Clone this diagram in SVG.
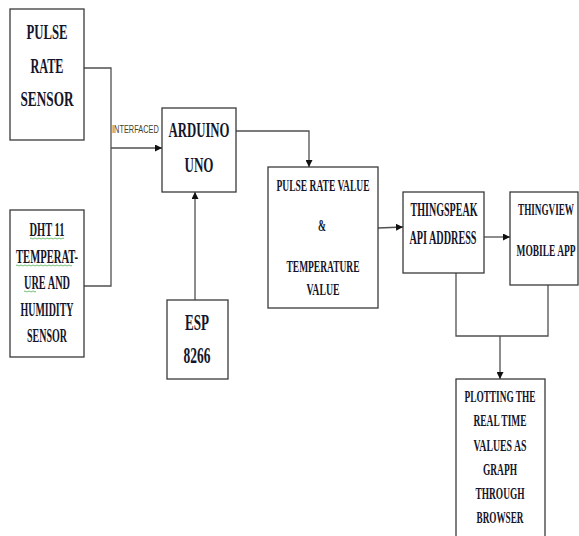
<svg xmlns="http://www.w3.org/2000/svg" width="579" height="536" viewBox="0 0 579 536">
<style>
.box{fill:#fff;stroke:#3a3a3a;stroke-width:1.3}
.ln{fill:none;stroke:#505050;stroke-width:1.3}
.t{font-family:"Liberation Serif","Times New Roman",serif;font-weight:bold;fill:#15152a;text-anchor:middle}
.wv{fill:none;stroke:#4caf50;stroke-width:0.8}
</style>
<defs>
<marker id="ah" viewBox="0 0 10 10" refX="10" refY="5" markerWidth="7" markerHeight="7" markerUnits="userSpaceOnUse" orient="auto">
<path d="M0,0 L10,5 L0,10 z" fill="#111"/>
</marker>
</defs>
<rect width="579" height="536" fill="#fff"/>
<g id="connectors">
<polyline class="ln" points="84,68 111,68 111,286 84,286"/>
<line class="ln" x1="111" y1="148" x2="162" y2="148" marker-end="url(#ah)"/>
<line class="ln" x1="195" y1="300" x2="195" y2="192" marker-end="url(#ah)"/>
<polyline class="ln" points="236,131 309,131 309,167" marker-end="url(#ah)"/>
<line class="ln" x1="378" y1="228" x2="403" y2="227" marker-end="url(#ah)"/>
<line class="ln" x1="484" y1="237" x2="510" y2="237" marker-end="url(#ah)"/>
<polyline class="ln" points="456,273 456,336 548,336 548,285"/>
<line class="ln" x1="500" y1="336" x2="500" y2="379" marker-end="url(#ah)"/>
<text transform="translate(112,133) scale(0.67,1)" font-family="Liberation Sans,Arial,sans-serif" font-size="11" fill="#4a3f1e" textLength="70" lengthAdjust="spacingAndGlyphs">INTERFACED</text>
</g>
<g id="pulse-sensor">
<rect class="box" x="10" y="9" width="74" height="131"/>
<text class="t" transform="translate(47,39) scale(0.6,1)" font-size="21" textLength="68.3" lengthAdjust="spacingAndGlyphs">PULSE</text>
<text class="t" transform="translate(47,73) scale(0.6,1)" font-size="21" textLength="55" lengthAdjust="spacingAndGlyphs">RATE</text>
<text class="t" transform="translate(47,106) scale(0.6,1)" font-size="21" textLength="88.3" lengthAdjust="spacingAndGlyphs">SENSOR</text>
</g>
<g id="dht11">
<rect class="box" x="10" y="210" width="74" height="147"/>
<text class="t" transform="translate(47,236) scale(0.6,1)" font-size="19" textLength="58.3" lengthAdjust="spacingAndGlyphs">DHT 11</text>
<text class="t" transform="translate(47,263) scale(0.6,1)" font-size="19" textLength="103.3" lengthAdjust="spacingAndGlyphs">TEMPERAT-</text>
<text class="t" transform="translate(47,289) scale(0.6,1)" font-size="19" textLength="76.7" lengthAdjust="spacingAndGlyphs">URE AND</text>
<text class="t" transform="translate(47,316) scale(0.6,1)" font-size="19" textLength="88.3" lengthAdjust="spacingAndGlyphs">HUMIDITY</text>
<text class="t" transform="translate(47,342) scale(0.6,1)" font-size="19" textLength="66.7" lengthAdjust="spacingAndGlyphs">SENSOR</text>
<path class="wv" d="M30,238.5 q1,-1 2,0 t2,0 t2,0 t2,0 t2,0 t2,0 t2,0 t2,0 t2,0 t2,0 t2,0 t2,0 t2,0 t2,0 t2,0 t2,0 t2,0"/>
<path class="wv" d="M16,265.5 q1,-1 2,0 t2,0 t2,0 t2,0 t2,0 t2,0 t2,0 t2,0 t2,0 t2,0 t2,0 t2,0 t2,0 t2,0 t2,0 t2,0 t2,0 t2,0 t2,0 t2,0 t2,0 t2,0 t2,0 t2,0 t2,0 t2,0 t2,0 t2,0"/>
<path class="wv" d="M24,291.5 q1,-1 2,0 t2,0 t2,0 t2,0 t2,0 t2,0"/>
</g>
<g id="arduino">
<rect class="box" x="162" y="108" width="74" height="84"/>
<text class="t" transform="translate(199,137) scale(0.6,1)" font-size="22" textLength="101.7" lengthAdjust="spacingAndGlyphs">ARDUINO</text>
<text class="t" transform="translate(199,172) scale(0.6,1)" font-size="22" textLength="48.3" lengthAdjust="spacingAndGlyphs">UNO</text>
</g>
<g id="esp8266">
<rect class="box" x="167" y="300" width="61" height="79"/>
<text class="t" transform="translate(197,330) scale(0.6,1)" font-size="23" textLength="40" lengthAdjust="spacingAndGlyphs">ESP</text>
<text class="t" transform="translate(197,363) scale(0.6,1)" font-size="23" textLength="45" lengthAdjust="spacingAndGlyphs">8266</text>
</g>
<g id="values">
<rect class="box" x="268" y="167" width="110" height="141"/>
<text class="t" transform="translate(323,191) scale(0.6,1)" font-size="16" textLength="155" lengthAdjust="spacingAndGlyphs">PULSE RATE VALUE</text>
<text class="t" transform="translate(322,231) scale(0.6,1)" font-size="16">&amp;</text>
<text class="t" transform="translate(323,272) scale(0.6,1)" font-size="16" textLength="121.7" lengthAdjust="spacingAndGlyphs">TEMPERATURE</text>
<text class="t" transform="translate(323,295) scale(0.6,1)" font-size="16" textLength="55" lengthAdjust="spacingAndGlyphs">VALUE</text>
</g>
<g id="thingspeak">
<rect class="box" x="403" y="192" width="81" height="81"/>
<text class="t" transform="translate(444,216) scale(0.6,1)" font-size="19" textLength="111.7" lengthAdjust="spacingAndGlyphs">THINGSPEAK</text>
<text class="t" transform="translate(443,244) scale(0.6,1)" font-size="19" textLength="111.7" lengthAdjust="spacingAndGlyphs">API ADDRESS</text>
</g>
<g id="thingview">
<rect class="box" x="510" y="192" width="68" height="93"/>
<text class="t" transform="translate(546,215) scale(0.6,1)" font-size="17" textLength="93.3" lengthAdjust="spacingAndGlyphs">THINGVIEW</text>
<text class="t" transform="translate(546,256) scale(0.6,1)" font-size="17" textLength="98.3" lengthAdjust="spacingAndGlyphs">MOBILE APP</text>
</g>
<g id="plotting">
<rect class="box" x="456" y="379" width="89" height="170"/>
<text class="t" transform="translate(500,402) scale(0.6,1)" font-size="17" textLength="118.3" lengthAdjust="spacingAndGlyphs">PLOTTING THE</text>
<text class="t" transform="translate(500,426) scale(0.6,1)" font-size="17" textLength="88.3" lengthAdjust="spacingAndGlyphs">REAL TIME</text>
<text class="t" transform="translate(500,451) scale(0.6,1)" font-size="17" textLength="88.3" lengthAdjust="spacingAndGlyphs">VALUES AS</text>
<text class="t" transform="translate(500,475) scale(0.6,1)" font-size="17" textLength="56.7" lengthAdjust="spacingAndGlyphs">GRAPH</text>
<text class="t" transform="translate(500,499) scale(0.6,1)" font-size="17" textLength="81.7" lengthAdjust="spacingAndGlyphs">THROUGH</text>
<text class="t" transform="translate(500,523) scale(0.6,1)" font-size="17" textLength="78.3" lengthAdjust="spacingAndGlyphs">BROWSER</text>
</g>
</svg>
